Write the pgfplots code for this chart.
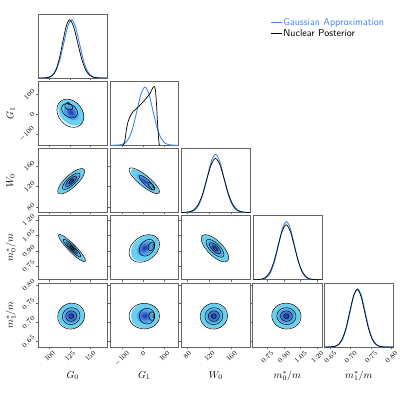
\documentclass[border=0pt]{standalone}
\usepackage{pgfplots}
\pgfplotsset{compat=1.18}
\usepackage{pgfplotstable}
\usepackage{graphicx}
\definecolor{gblue}{RGB}{62,132,240}
\definecolor{lvA}{RGB}{104,208,240}
\definecolor{lvB}{RGB}{80,160,232}
\definecolor{lvC}{RGB}{62,112,216}
\definecolor{lvD}{RGB}{38,72,170}
\definecolor{frm}{RGB}{100,100,100}

% unit circle (cos, sin) used to trace the contour ellipses
\pgfplotstableread{
u v
1 0
0.9659 0.2588
0.8660 0.5
0.7071 0.7071
0.5 0.8660
0.2588 0.9659
0 1
-0.2588 0.9659
-0.5 0.8660
-0.7071 0.7071
-0.8660 0.5
-0.9659 0.2588
-1 0
-0.9659 -0.2588
-0.8660 -0.5
-0.7071 -0.7071
-0.5 -0.8660
-0.2588 -0.9659
0 -1
0.2588 -0.9659
0.5 -0.8660
0.7071 -0.7071
0.8660 -0.5
0.9659 -0.2588
1 0
}\unitcirc

% #1 colour, #2 mx, #3 sx, #4 my, #5 sy, #6 rho, #7 radius
\newcommand{\ellfill}[7]{\addplot[fill=#1, draw=none] table[x expr={#2+(#3)*(#7)*\thisrow{u}}, y expr={#4+(#5)*(#7)*((#6)*\thisrow{u}+sqrt(1-(#6)*(#6))*\thisrow{v})}] {\unitcirc};}
\newcommand{\gauss}[5]{%
\ellfill{lvA}{#1}{#2}{#3}{#4}{#5}{2}
\ellfill{lvB}{#1}{#2}{#3}{#4}{#5}{1.15}
\ellfill{lvC}{#1}{#2}{#3}{#4}{#5}{0.7}
\ellfill{lvD}{#1}{#2}{#3}{#4}{#5}{0.35}}
% #1 mx, #2 sx, #3 my, #4 sy, #5 rho, #6 radius
\newcommand{\post}[6]{\addplot[black, line width=0.5pt] table[x expr={#1+(#2)*(#6)*\thisrow{u}}, y expr={#3+(#4)*(#6)*((#5)*\thisrow{u}+sqrt(1-(#5)*(#5))*\thisrow{v})}] {\unitcirc};}
\newcommand{\postall}[5]{%
\post{#1}{#2}{#3}{#4}{#5}{2}
\post{#1}{#2}{#3}{#4}{#5}{1.3}
\post{#1}{#2}{#3}{#4}{#5}{0.8}
\post{#1}{#2}{#3}{#4}{#5}{0.35}}

\pgfplotsset{
 corner/.style={
  scale only axis, width=69pt, height=64pt, anchor=south west,
  axis line style={draw=frm, line width=0.6pt},
  tick style={draw=frm, line width=0.5pt},
  major tick length=2pt, tick align=outside,
  xtick pos=bottom, ytick pos=left, scaled ticks=false,
  ticklabel style={font=\fontsize{7.5}{8}\selectfont, inner sep=1pt},
  xticklabel style={anchor=north},
  yticklabel style={anchor=east},
  label style={font=\fontsize{10}{11}\selectfont},
  xlabel style={at={(axis description cs:0.5,-0.45)}, anchor=center},
  ylabel style={at={(axis description cs:-0.40,0.5)}, anchor=center},
 },
 labx/.style={xticklabel={\rotatebox{45}{\axisdefaultticklabel}}},
 laby/.style={yticklabel={\rotatebox{45}{\axisdefaultticklabel}}},
 nox/.style={xticklabel={\relax}},
 noy/.style={yticklabel={\relax}},
 oned/.style={ymin=0, ymax=1.1, ytick=\empty},
 xG0/.style={xmin=86, xmax=171, xtick={100,125,150}},
 xG1/.style={xmin=-158, xmax=168, xtick={-100,0,100}},
 yG1/.style={ymin=-158, ymax=168, ytick={-100,0,100}},
 xW0/.style={xmin=69, xmax=194, xtick={80,120,160}},
 yW0/.style={ymin=69, ymax=194, ytick={80,120,160}},
 xm0/.style={xmin=0.62, xmax=1.24, xtick={0.75,0.90,1.05,1.20},
   xticklabel style={/pgf/number format/.cd, fixed, fixed zerofill, precision=2}},
 ym0/.style={ymin=0.62, ymax=1.24, ytick={0.75,0.90,1.05,1.20},
   yticklabel style={/pgf/number format/.cd, fixed, fixed zerofill, precision=2}},
 xm1/.style={xmin=0.635, xmax=0.805, xtick={0.65,0.70,0.75,0.80},
   xticklabel style={/pgf/number format/.cd, fixed, fixed zerofill, precision=2}},
 ym1/.style={ymin=0.635, ymax=0.805, ytick={0.65,0.70,0.75,0.80},
   yticklabel style={/pgf/number format/.cd, fixed, fixed zerofill, precision=2}},
 blueline/.style={gblue, line width=0.9pt, smooth},
 blackline/.style={black, line width=0.7pt, smooth},
}

\begin{document}
\begin{tikzpicture}
\path[use as bounding box] (0,0) rectangle (400pt,400pt);

% ---------- row 0 : G0 marginal ----------
\begin{axis}[corner, at={(38.3pt,322pt)}, xG0, oned, nox,
  legend style={at={(axis description cs:3.36,0.955)}, anchor=north west, draw=none, fill=none,
    font=\sffamily\fontsize{10}{11}\selectfont, row sep=1pt, inner sep=0pt, nodes={inner sep=1pt}},
  legend cell align=left,
  legend image code/.code={\draw[#1, smooth=false, line width=1pt] (0pt,0pt) -- (11pt,0pt);}]
\addplot[blueline] coordinates {(86,0) (89,0.0003) (93.75,0.0022) (98.5,0.0111) (103.25,0.0439) (108,0.1353) (112.75,0.3247) (117.5,0.6065) (122.25,0.8825) (127,1) (131.75,0.8825) (136.5,0.6065) (141.25,0.3247) (146,0.1353) (150.75,0.0439) (155.5,0.0111) (160.25,0.0022) (165,0.0003) (171,0)};
\addlegendentry{\textcolor{gblue}{Gaussian Approximation}}
\addplot[blackline] coordinates {(86,0) (90.5,0.0003) (94.75,0.0022) (99,0.0111) (103.25,0.0439) (107.5,0.1353) (111.75,0.3247) (116,0.6065) (120.25,0.8825) (124.5,1) (129.5,0.8825) (134.5,0.6065) (139.5,0.3247) (144.5,0.1353) (149.5,0.0439) (154.5,0.0111) (159.5,0.0022) (164.5,0.0003) (171,0)};
\addlegendentry{Nuclear Posterior}
\end{axis}

% ---------- row 1 ----------
\begin{axis}[corner, at={(38.3pt,254.75pt)}, xG0, yG1, nox, laby, ylabel={$G_1$}]
\gauss{126.5}{8}{8}{33}{-0.3}
\post{125.5}{8.3}{5}{36}{-0.25}{2}
\post{124.5}{7.5}{18}{28}{-0.3}{1.3}
\post{123.5}{6}{38}{20}{-0.3}{0.8}
\post{123}{5}{55}{14}{-0.3}{0.35}
\end{axis}
\begin{axis}[corner, at={(109.8pt,254.75pt)}, xG1, oned, nox]
\addplot[blueline] coordinates {(-158,0) (-140,0.0003) (-121.5,0.0022) (-103,0.0111) (-84.5,0.0439) (-66,0.1353) (-47.5,0.3247) (-29,0.6065) (-10.5,0.8825) (8,1) (26.5,0.8825) (45,0.6065) (63.5,0.3247) (82,0.1353) (100.5,0.0439) (119,0.0111) (137.5,0.0022) (156,0.0003) (168,0)};
\addplot[blackline] coordinates {(-96,0) (-90,0.03) (-85,0.12) (-80,0.26) (-72,0.40) (-64,0.48) (-55,0.54) (-48,0.58) (-35,0.62) (-20,0.67) (-5,0.73) (10,0.79) (22,0.84) (32,0.89) (40,0.95) (47,1.0) (52,1.01) (57,0.96) (61,0.80) (65,0.55) (69,0.30) (73,0.10) (76,0.01) (80,0)};
\end{axis}

% ---------- row 2 ----------
\begin{axis}[corner, at={(38.3pt,187.5pt)}, xG0, yW0, nox, laby, ylabel={$W_0$}]
\gauss{126.5}{8}{130}{12}{0.8}
\postall{126.5}{8.3}{130}{12.4}{0.78}
\end{axis}
\begin{axis}[corner, at={(109.8pt,187.5pt)}, xG1, yW0, nox, noy]
\gauss{8}{33}{130}{12}{-0.85}
\post{5}{36}{131}{12.6}{-0.85}{2}
\post{18}{28}{127}{11}{-0.85}{1.3}
\post{38}{20}{120.5}{9}{-0.75}{0.8}
\post{50}{13}{118}{6}{-0.7}{0.35}
\end{axis}
\begin{axis}[corner, at={(181.3pt,187.5pt)}, xW0, oned, nox]
\addplot[blueline] coordinates {(69,0) (71,0.0003) (78.5,0.0022) (86,0.0111) (93.5,0.0439) (101,0.1353) (108.5,0.3247) (116,0.6065) (123.5,0.8825) (131,1) (138.5,0.8825) (146,0.6065) (153.5,0.3247) (161,0.1353) (168.5,0.0439) (176,0.0111) (183.5,0.0022) (191,0.0003) (194,0)};
\addplot[blackline] coordinates {(67,0.0003) (75,0.0020) (83,0.0103) (91,0.0408) (99,0.1258) (107,0.3020) (115,0.5640) (123,0.8207) (131,0.93) (139,0.8207) (147,0.5640) (155,0.3020) (163,0.1258) (171,0.0408) (179,0.0103) (187,0.0020) (195,0.0003)};
\end{axis}

% ---------- row 3 ----------
\begin{axis}[corner, at={(38.3pt,120.25pt)}, xG0, ym0, nox, laby, ylabel={$m_0^*/m$}]
\gauss{127.5}{8}{0.927}{0.064}{-0.93}
\postall{127.5}{8.3}{0.927}{0.066}{-0.92}
\end{axis}
\begin{axis}[corner, at={(109.8pt,120.25pt)}, xG1, ym0, nox, noy]
\gauss{8}{33}{0.925}{0.064}{0.3}
\post{5}{36}{0.923}{0.067}{0.3}{2}
\post{18}{28}{0.93}{0.062}{0.3}{1.3}
\post{38}{19}{0.942}{0.05}{0.3}{0.8}
\post{50}{12}{0.95}{0.04}{0.3}{0.35}
\end{axis}
\begin{axis}[corner, at={(181.3pt,120.25pt)}, xW0, ym0, nox, noy]
\gauss{130}{12}{0.925}{0.064}{-0.72}
\postall{130}{12.4}{0.925}{0.066}{-0.7}
\end{axis}
\begin{axis}[corner, at={(252.8pt,120.25pt)}, xm0, oned, nox]
\addplot[blueline] coordinates {(0.62,0) (0.642,0.0003) (0.677,0.0022) (0.712,0.0111) (0.747,0.0439) (0.782,0.1353) (0.817,0.3247) (0.852,0.6065) (0.887,0.8825) (0.922,1) (0.957,0.8825) (0.992,0.6065) (1.027,0.3247) (1.062,0.1353) (1.097,0.0439) (1.132,0.0111) (1.167,0.0022) (1.202,0.0003) (1.24,0)};
\addplot[blackline] coordinates {(0.62,0) (0.624,0.0003) (0.661,0.0021) (0.698,0.0105) (0.735,0.0415) (0.772,0.1279) (0.809,0.3068) (0.846,0.5731) (0.883,0.8340) (0.92,0.945) (0.957,0.8340) (0.994,0.5731) (1.031,0.3068) (1.068,0.1279) (1.105,0.0415) (1.142,0.0105) (1.179,0.0021) (1.216,0.0003) (1.24,0)};
\end{axis}

% ---------- row 4 ----------
\begin{axis}[corner, at={(38.3pt,53pt)}, xG0, ym1, labx, laby, xlabel={$G_0$}, ylabel={$m_1^*/m$}]
\gauss{126.5}{8}{0.717}{0.0165}{0.0}
\postall{126.5}{8.3}{0.717}{0.0172}{0.05}
\end{axis}
\begin{axis}[corner, at={(109.8pt,53pt)}, xG1, ym1, labx, noy, xlabel={$G_1$}]
\gauss{8}{33}{0.717}{0.0165}{0.0}
\post{5}{36}{0.717}{0.017}{0.0}{2}
\post{18}{28}{0.717}{0.016}{0.0}{1.3}
\post{40}{17}{0.717}{0.014}{0.0}{0.8}
\post{50}{11}{0.717}{0.011}{0.0}{0.35}
\end{axis}
\begin{axis}[corner, at={(181.3pt,53pt)}, xW0, ym1, labx, noy, xlabel={$W_0$}]
\gauss{128}{12}{0.717}{0.0165}{0.0}
\postall{128}{12.4}{0.717}{0.0172}{0.03}
\end{axis}
\begin{axis}[corner, at={(252.8pt,53pt)}, xm0, ym1, labx, noy, xlabel={$m_0^*/m$}]
\gauss{0.922}{0.064}{0.717}{0.0165}{0.0}
\postall{0.922}{0.066}{0.717}{0.0172}{-0.03}
\end{axis}
\begin{axis}[corner, at={(324.3pt,53pt)}, xm1, oned, labx, xlabel={$m_1^*/m$}]
\addplot[blueline] coordinates {(0.635,0) (0.643,0.0003) (0.6523,0.0022) (0.6615,0.0111) (0.6708,0.0439) (0.68,0.1353) (0.6893,0.3247) (0.6985,0.6065) (0.7078,0.8825) (0.717,1) (0.7263,0.8825) (0.7355,0.6065) (0.7448,0.3247) (0.754,0.1353) (0.7633,0.0439) (0.7725,0.0111) (0.7818,0.0022) (0.791,0.0003) (0.805,0)};
\addplot[blackline] coordinates {(0.635,0) (0.642,0.0003) (0.6513,0.0022) (0.6605,0.0110) (0.6698,0.0435) (0.679,0.1339) (0.6883,0.3215) (0.6975,0.6004) (0.7068,0.8737) (0.716,0.99) (0.7253,0.8737) (0.7345,0.6004) (0.7438,0.3215) (0.753,0.1339) (0.7623,0.0435) (0.7715,0.0110) (0.7808,0.0022) (0.790,0.0003) (0.805,0)};
\end{axis}
\end{tikzpicture}
\end{document}
